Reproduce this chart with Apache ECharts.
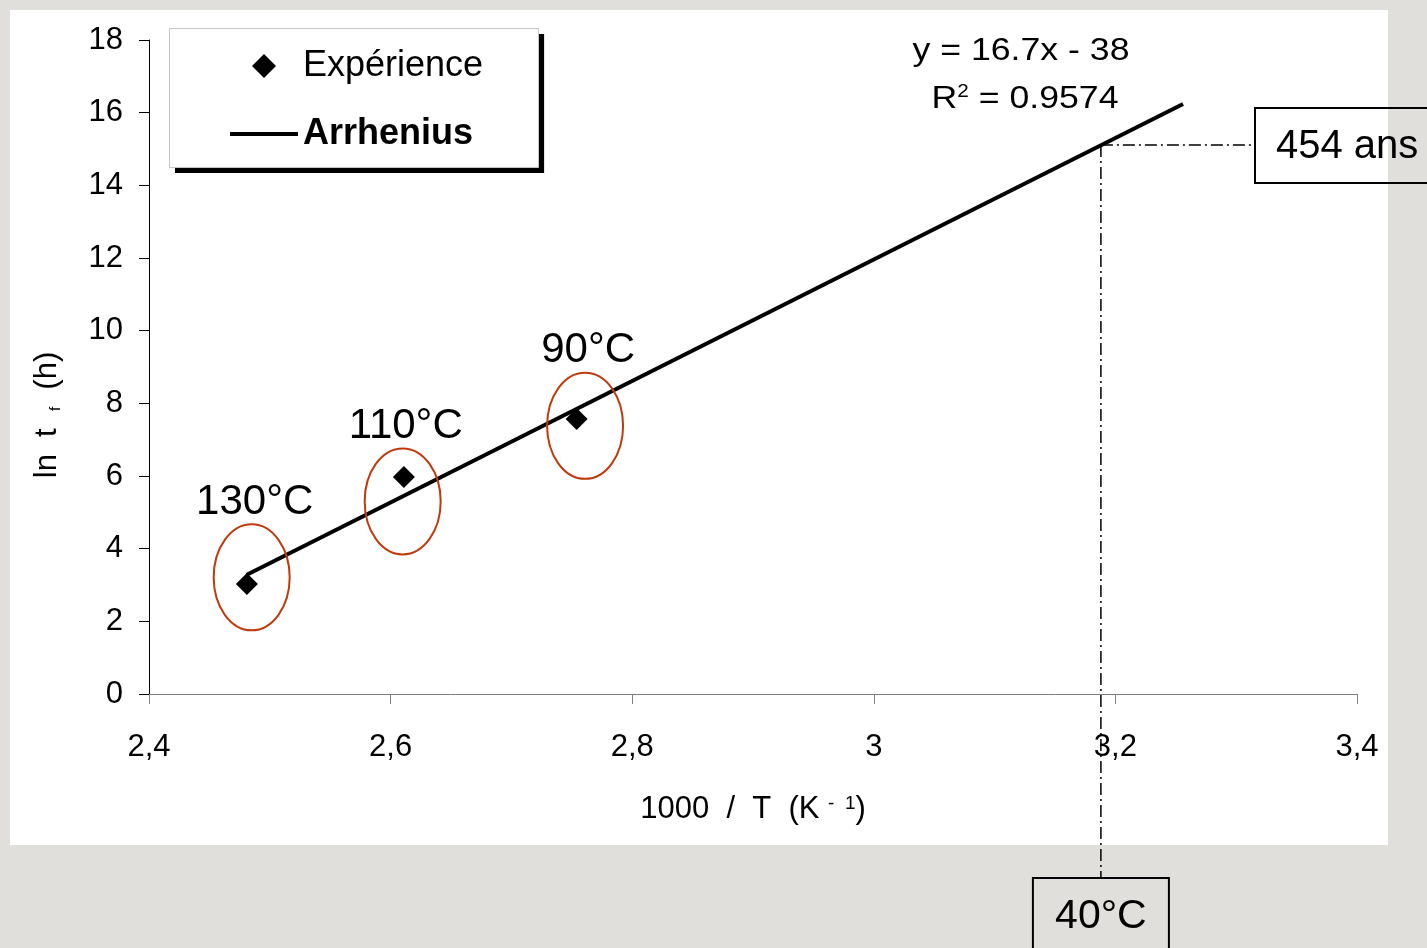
<!DOCTYPE html>
<html><head><meta charset="utf-8">
<script src="https://cdn.jsdelivr.net/npm/echarts@6/dist/echarts.min.js"></script>
<style>html,body{margin:0;padding:0;background:#e0dfdb;} #c{width:1427px;height:948px;}</style>
</head><body><div id="c"></div>
<script>
// ---- data ----
const expX = [2.481, 2.611, 2.754];           // 1000/T of experiments
const expY = [3.03, 5.97, 7.57];              // ln tf
const fitX = [2.481, 3.256];                  // Arrhenius fit line ends
const fitY = [3.28, 16.24];
const tempLabels = ['130°C', '110°C', '90°C'];
const ringX = [2.485, 2.610, 2.761];          // highlight ellipse centres
const ringY = [3.21, 5.30, 7.38];
const predX = [3.188];                        // 40 °C extrapolation
const predY = [15.11];
const predLabels = ['454 ans', '40°C'];
const xTickLabels = ['2,4', '2,6', '2,8', '3', '3,2', '3,4'];
const yTickLabels = ['0', '2', '4', '6', '8', '10', '12', '14', '16', '18'];
const eqLine1 = 'y = 16.7x - 38';
const eqR2 = '0.9574';

const FONT = '"Liberation Sans", Arial, Helvetica, sans-serif';
const RING = '#BF3A0C';
const xMin = 2.4, xMax = 3.4, xStep = 0.2;
const yMin = 0, yMax = 18, yStep = 2;

const chart = echarts.init(document.getElementById('c'), null, {renderer: 'canvas'});

const option = {
  backgroundColor: '#e0dfdb',
  animation: false,
  textStyle: {fontFamily: FONT},
  grid: {left: 149, right: 70, top: 40, bottom: 254, containLabel: false},
  graphic: [
    {type: 'rect', z: -100, silent: true, shape: {x: 10, y: 10, width: 1378, height: 835}, style: {fill: '#ffffff'}},
    {type: 'rect', z: 100, silent: true, shape: {x: 169.5, y: 28.5, width: 369, height: 139},
      style: {fill: 'none', stroke: '#c4c4c4', lineWidth: 1}},
    {type: 'text', z: 10, x: 1021, y: 51, scaleX: 1.15,
      style: {text: eqLine1, font: '31px ' + FONT, fill: '#000', align: 'center', verticalAlign: 'middle'}},
    {type: 'text', z: 10, x: 1025, y: 99, scaleX: 1.15,
      style: {text: '{b|R}{s|2}{b| = ' + eqR2 + '}', align: 'center', verticalAlign: 'middle', fill: '#000',
        rich: {b: {fontSize: 31, fontFamily: FONT, fill: '#000', verticalAlign: 'bottom'},
               s: {fontSize: 18, fontFamily: FONT, fill: '#000', verticalAlign: 'top'}}}}
  ],
  legend: {
    left: 169, top: 28, orient: 'vertical',
    backgroundColor: '#ffffff', borderWidth: 0,
    shadowColor: '#000000', shadowBlur: 0, shadowOffsetX: 6, shadowOffsetY: 6,
    padding: [20, 55, 15, 61],
    itemWidth: 68, itemHeight: 24, itemGap: 32,
    symbolKeepAspect: true,
    textStyle: {fontSize: 36, color: '#000', fontFamily: FONT},
    data: [
      {name: 'Expérience', icon: 'path://M0,-1L1,0L0,1L-1,0Z', symbolKeepAspect: true,
        itemStyle: {color: '#000', opacity: 1}},
      {name: 'Arrhenius', icon: 'path://M0,0L17,0L17,1L0,1Z', symbolKeepAspect: true,
        itemStyle: {color: '#000'}, textStyle: {fontWeight: 'bold'}}
    ]
  },
  xAxis: {
    type: 'value', min: xMin, max: xMax, interval: xStep,
    axisLine: {lineStyle: {color: '#808080', width: 1}},
    axisTick: {inside: false, length: 10, lineStyle: {color: '#808080'}},
    splitLine: {show: false},
    axisLabel: {
      color: '#000', fontSize: 31, fontFamily: FONT, margin: 38,
      formatter: v => xTickLabels[Math.round((v - xMin) / xStep)]
    },
    name: '{m|1000  /  T  (K }{s|-  1}{m|)}',
    nameLocation: 'middle', nameGap: 100,
    nameTextStyle: {
      rich: {m: {fontSize: 31, fontFamily: FONT, color: '#000', verticalAlign: 'bottom'},
             s: {fontSize: 19, fontFamily: FONT, color: '#000', verticalAlign: 'top'}}
    }
  },
  yAxis: {
    type: 'value', min: yMin, max: yMax, interval: yStep,
    axisLine: {show: true, lineStyle: {color: '#000', width: 1}},
    axisTick: {show: true, inside: false, length: 10, lineStyle: {color: '#000'}},
    splitLine: {show: false},
    axisLabel: {
      color: '#000', fontSize: 31, fontFamily: FONT, margin: 26,
      formatter: v => yTickLabels[Math.round((v - yMin) / yStep)]
    },
    name: '{m|ln  t  }{s|f}{m|  (h)}',
    nameLocation: 'middle', nameRotate: 90, nameGap: 86,
    nameTextStyle: {
      padding: [0, 96, 0, 0],
      rich: {m: {fontSize: 31, fontFamily: FONT, color: '#000', verticalAlign: 'bottom'},
             s: {fontSize: 15, fontFamily: FONT, color: '#000', verticalAlign: 'bottom'}}
    }
  },
  series: [
    {
      name: 'Arrhenius', type: 'line', z: 3,
      data: fitX.map((x, i) => [x, fitY[i]]),
      symbol: 'none', lineStyle: {color: '#000', width: 4}, itemStyle: {color: '#000'}
    },
    {
      name: 'Expérience', type: 'scatter', z: 4,
      data: expX.map((x, i) => [x, expY[i]]),
      symbol: 'diamond', symbolSize: 22, itemStyle: {color: '#000', opacity: 1}
    },
    {
      name: 'rings', type: 'custom', z: 5, silent: true, clip: false,
      data: ringX.map((x, i) => [x, ringY[i]]),
      renderItem: (params, api) => {
        const p = api.coord([api.value(0), api.value(1)]);
        return {type: 'group', children: [
          {type: 'ellipse', shape: {cx: p[0], cy: p[1], rx: 38, ry: 53},
            style: {fill: 'none', stroke: RING, lineWidth: 2}},
          {type: 'text', x: p[0] + 3, y: p[1] - 75,
            style: {text: tempLabels[params.dataIndex], font: '42px ' + FONT, fill: '#000',
              align: 'center', verticalAlign: 'middle'}}
        ]};
      }
    },
    {
      name: 'prediction', type: 'custom', z: 6, silent: true, clip: false,
      data: predX.map((x, i) => [x, predY[i]]),
      renderItem: (params, api) => {
        const p = api.coord([api.value(0), api.value(1)]);
        const dash = {stroke: '#000', lineWidth: 1.5, lineDash: [12, 4, 2, 4]};
        return {type: 'group', children: [
          {type: 'line', shape: {x1: p[0], y1: p[1], x2: p[0], y2: 878}, style: dash},
          {type: 'line', shape: {x1: p[0], y1: p[1], x2: 1255, y2: p[1]}, style: dash},
          {type: 'rect', shape: {x: 1255, y: p[1] - 37, width: 190, height: 75},
            style: {fill: 'none', stroke: '#000', lineWidth: 2}},
          {type: 'text', x: 1276, y: p[1] + 2,
            style: {text: predLabels[0], font: '40px ' + FONT, fill: '#000', align: 'left', verticalAlign: 'middle'}},
          {type: 'rect', shape: {x: p[0] - 68, y: 878, width: 136, height: 100},
            style: {fill: 'none', stroke: '#000', lineWidth: 2}},
          {type: 'text', x: p[0], y: 917,
            style: {text: predLabels[1], font: '41px ' + FONT, fill: '#000', align: 'center', verticalAlign: 'middle'}}
        ]};
      }
    }
  ]
};
chart.setOption(option);
</script>
</body></html>
